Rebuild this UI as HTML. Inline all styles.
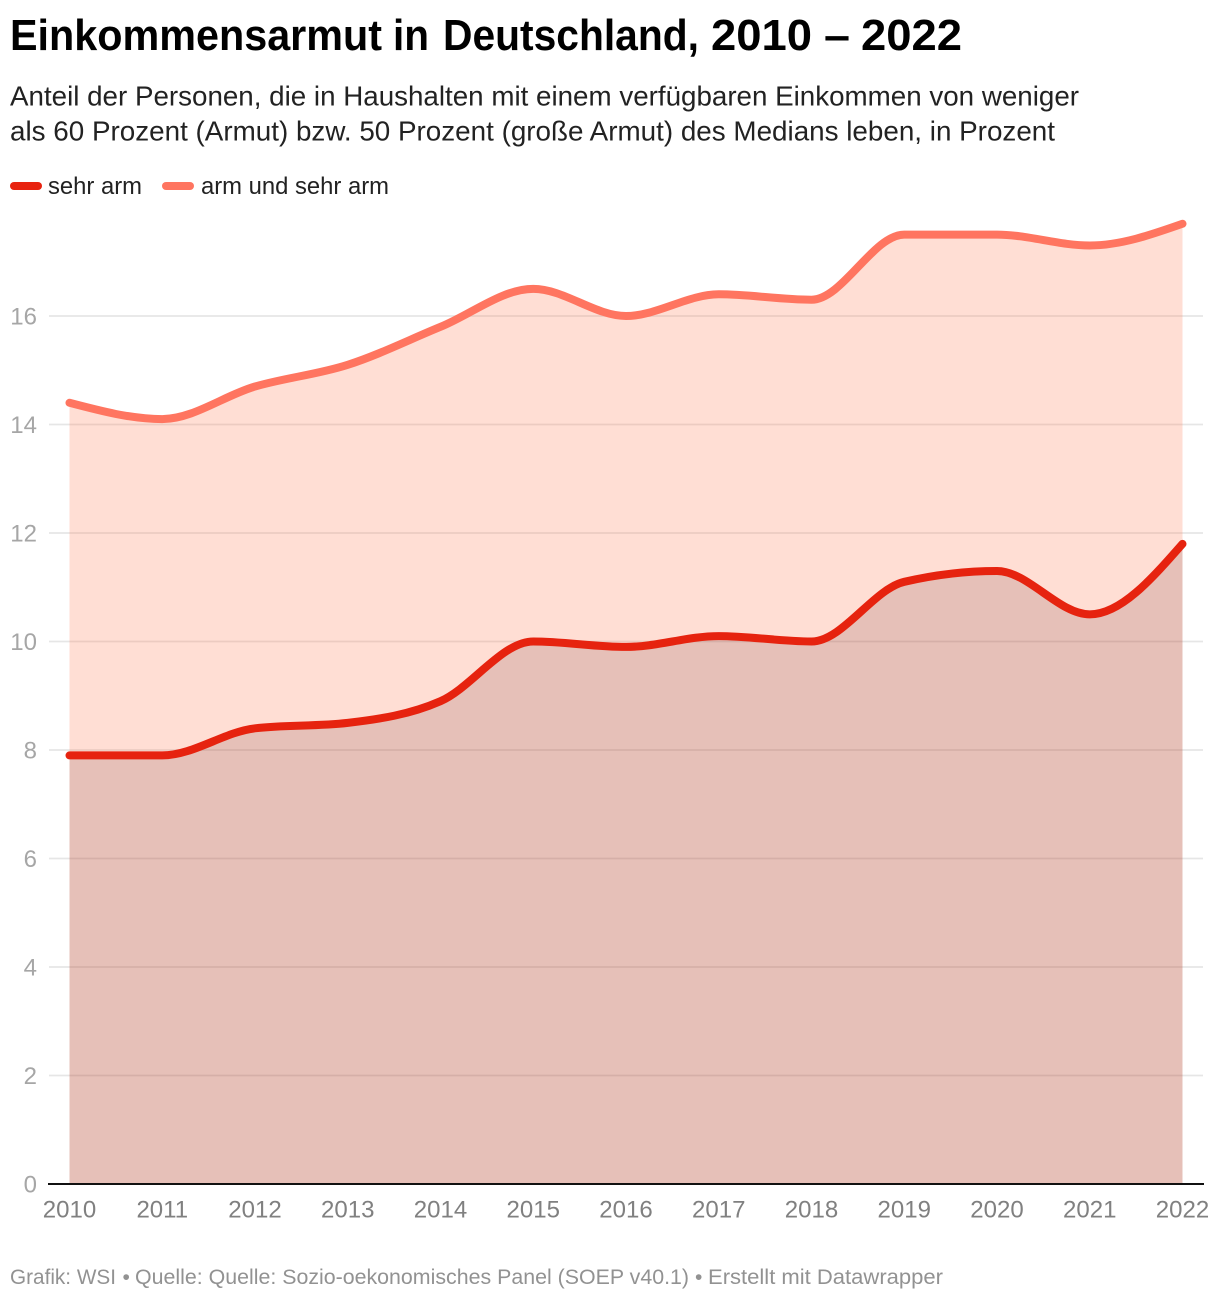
<!DOCTYPE html>
<html lang="de">
<head>
<meta charset="utf-8">
<title>Einkommensarmut in Deutschland, 2010 – 2022</title>
<style>
html,body{margin:0;padding:0;background:#fff;width:1220px;height:1300px;overflow:hidden}
svg{display:block;font-family:"Liberation Sans",sans-serif}
</style>
</head>
<body>
<svg id="chart" width="1220" height="1300" viewBox="0 0 1220 1300" xmlns="http://www.w3.org/2000/svg">
  <text y="50" font-size="44" font-weight="700" fill="#000"><tspan x="10" textLength="372" lengthAdjust="spacingAndGlyphs">Einkommensarmut</tspan> <tspan x="393" textLength="36" lengthAdjust="spacingAndGlyphs">in</tspan> <tspan x="443" textLength="256" lengthAdjust="spacingAndGlyphs">Deutschland,</tspan> <tspan x="711" textLength="101" lengthAdjust="spacingAndGlyphs">2010</tspan> <tspan x="824" textLength="26" lengthAdjust="spacingAndGlyphs">–</tspan> <tspan x="861" textLength="101" lengthAdjust="spacingAndGlyphs">2022</tspan></text>
  <text x="10" y="105.5" font-size="27.5" fill="#222" textLength="1069" lengthAdjust="spacingAndGlyphs">Anteil der Personen, die in Haushalten mit einem verfügbaren Einkommen von weniger</text>
  <text x="10" y="140.5" font-size="27.5" fill="#222" textLength="1045" lengthAdjust="spacingAndGlyphs">als 60 Prozent (Armut) bzw. 50 Prozent (große Armut) des Medians leben, in Prozent</text>

  <g>
    <line x1="14" y1="186" x2="38" y2="186" stroke="#e8230f" stroke-width="8" stroke-linecap="round"/>
    <text x="48" y="194" font-size="24" fill="#222" textLength="94" lengthAdjust="spacingAndGlyphs">sehr arm</text>
    <line x1="166" y1="186" x2="190" y2="186" stroke="#ff7560" stroke-width="8" stroke-linecap="round"/>
    <text x="201" y="194" font-size="24" fill="#222" textLength="188" lengthAdjust="spacingAndGlyphs">arm und sehr arm</text>
  </g>

  <g id="grid"></g>
  <g id="areas"></g>
  <g id="y-labels"></g>
  <g id="x-labels"></g>
  <line x1="48" y1="1184" x2="1204" y2="1184" stroke="#111" stroke-width="2"/>
  <g id="lines"></g>

  <g font-size="21" fill="#929292">
    <text x="10" y="1284" textLength="106" lengthAdjust="spacingAndGlyphs">Grafik: WSI</text>
    <text x="122.5" y="1284">•</text>
    <text x="135" y="1284" textLength="554" lengthAdjust="spacingAndGlyphs">Quelle: Quelle: Sozio-oekonomisches Panel (SOEP v40.1)</text>
    <text x="695" y="1284">•</text>
    <text x="708" y="1284" textLength="235" lengthAdjust="spacingAndGlyphs">Erstellt mit Datawrapper</text>
  </g>
</svg>
<script>
const years = [2010, 2011, 2012, 2013, 2014, 2015, 2016, 2017, 2018, 2019, 2020, 2021, 2022];
const armValues = [14.4, 14.1, 14.7, 15.1, 15.8, 16.5, 16.0, 16.4, 16.3, 17.5, 17.5, 17.3, 17.7];
const sehrArmValues = [7.9, 7.9, 8.4, 8.5, 8.9, 10.0, 9.9, 10.1, 10.0, 11.1, 11.3, 10.5, 11.8];
const yTicks = [0, 2, 4, 6, 8, 10, 12, 14, 16];

const NS = 'http://www.w3.org/2000/svg';
const xAxis = year => 69.5 + (year - 2010) * 92.75;
const yAxis = value => 1184 - value * 54.25;

function sign(v) { return v < 0 ? -1 : 1; }

/* Monotone cubic path (matches d3 curveMonotoneX). */
function monotonePath(xs, ys) {
  const n = xs.length;
  const slopes = [];
  for (let i = 0; i < n - 1; i++) slopes.push((ys[i + 1] - ys[i]) / (xs[i + 1] - xs[i]));
  const t = new Array(n);
  for (let i = 1; i < n - 1; i++) {
    const h0 = xs[i] - xs[i - 1];
    const h1 = xs[i + 1] - xs[i];
    const p = (slopes[i - 1] * h1 + slopes[i] * h0) / (h0 + h1);
    t[i] = (sign(slopes[i - 1]) + sign(slopes[i])) * Math.min(Math.abs(slopes[i - 1]), Math.abs(slopes[i]), 0.5 * Math.abs(p)) || 0;
  }
  t[0] = (3 * slopes[0] - t[1]) / 2;
  t[n - 1] = (3 * slopes[n - 2] - t[n - 2]) / 2;
  let d = 'M' + xs[0] + ',' + ys[0];
  for (let i = 0; i < n - 1; i++) {
    const dx = (xs[i + 1] - xs[i]) / 3;
    d += 'C' + (xs[i] + dx) + ',' + (ys[i] + dx * t[i]) + ' ' + (xs[i + 1] - dx) + ',' + (ys[i + 1] - dx * t[i + 1]) + ' ' + xs[i + 1] + ',' + ys[i + 1];
  }
  return d;
}

const xs = years.map(xAxis);
const armPath = monotonePath(xs, armValues.map(yAxis));
const sehrPath = monotonePath(xs, sehrArmValues.map(yAxis));
const closing = 'L' + xs[xs.length - 1] + ',' + yAxis(0) + 'L' + xs[0] + ',' + yAxis(0) + 'Z';

const grid = document.getElementById('grid');
const yLabels = document.getElementById('y-labels');
yTicks.forEach(tick => {
  if (tick !== 0) {
    const gridLine = document.createElementNS(NS, 'line');
    
    
    gridLine.setAttribute('x1', 49);
    gridLine.setAttribute('x2', 1203);
    gridLine.setAttribute('y1', yAxis(tick));
    gridLine.setAttribute('y2', yAxis(tick));
    gridLine.setAttribute('stroke', '#e6e6e6');
    gridLine.setAttribute('stroke-width', 1.7);
    grid.appendChild(gridLine);
  }
  const label = document.createElementNS(NS, 'text');
  
  
  label.setAttribute('x', 37);
  label.setAttribute('y', yAxis(tick) + 8.5);
  label.setAttribute('text-anchor', 'end');
  label.setAttribute('font-size', 24);
  label.setAttribute('fill', '#a6a6a6');
  label.textContent = tick;
  yLabels.appendChild(label);
});

const xLabels = document.getElementById('x-labels');
years.forEach(year => {
  const label = document.createElementNS(NS, 'text');
  
  
  label.setAttribute('x', xAxis(year));
  label.setAttribute('y', 1217.5);
  label.setAttribute('text-anchor', 'middle');
  label.setAttribute('font-size', 24);
  label.setAttribute('fill', '#808080');
  label.textContent = year;
  xLabels.appendChild(label);
});

const areas = document.getElementById('areas');
const armArea = document.createElementNS(NS, 'path');


armArea.setAttribute('d', armPath + closing);
armArea.setAttribute('fill', '#ff7a55');
armArea.setAttribute('fill-opacity', 0.25);
areas.appendChild(armArea);

const sehrArea = document.createElementNS(NS, 'path');


sehrArea.setAttribute('d', sehrPath + closing);
sehrArea.setAttribute('fill', '#58151c');
sehrArea.setAttribute('fill-opacity', 0.15);
areas.appendChild(sehrArea);

const lines = document.getElementById('lines');
const armLine = document.createElementNS(NS, 'path');


armLine.setAttribute('d', armPath);
armLine.setAttribute('fill', 'none');
armLine.setAttribute('stroke', '#ff7560');
armLine.setAttribute('stroke-width', 8);
armLine.setAttribute('stroke-linecap', 'round');
armLine.setAttribute('stroke-linejoin', 'round');
lines.appendChild(armLine);

const sehrLine = document.createElementNS(NS, 'path');


sehrLine.setAttribute('d', sehrPath);
sehrLine.setAttribute('fill', 'none');
sehrLine.setAttribute('stroke', '#e6230f');
sehrLine.setAttribute('stroke-width', 8);
sehrLine.setAttribute('stroke-linecap', 'round');
sehrLine.setAttribute('stroke-linejoin', 'round');
lines.appendChild(sehrLine);
</script>
</body>
</html>
